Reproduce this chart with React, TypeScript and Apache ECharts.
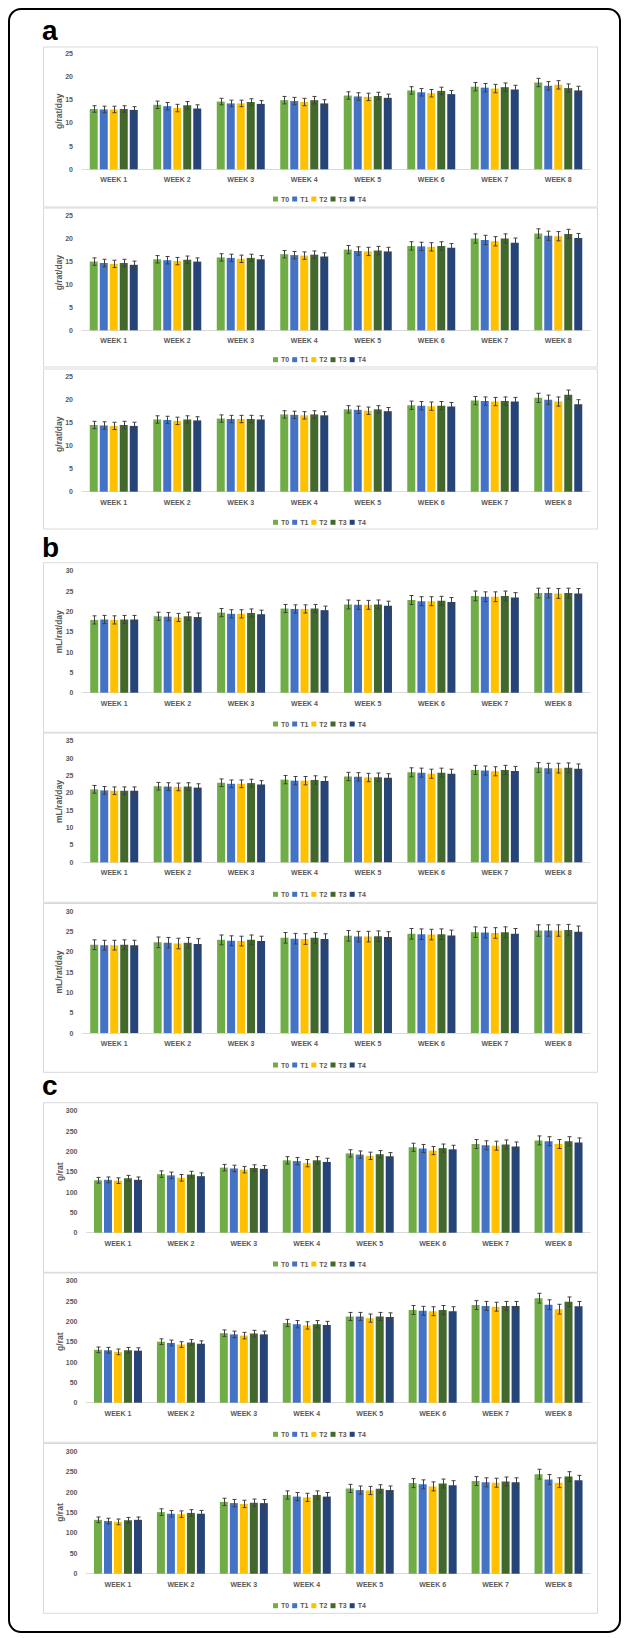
import React, { useEffect, useRef } from "react";
import * as echarts from "echarts";

const weeks = ["WEEK 1", "WEEK 2", "WEEK 3", "WEEK 4", "WEEK 5", "WEEK 6", "WEEK 7", "WEEK 8"];
const groups = ["T0", "T1", "T2", "T3", "T4"];
const colors = ["#70AD47", "#4472C4", "#FFC000", "#43682B", "#264478"];

// a: feed intake (g/rat/day)
const a1 = [
  [13.0, 13.9, 14.6, 14.9, 15.9, 17.0, 17.8, 18.7],
  [12.9, 13.6, 14.2, 14.7, 15.7, 16.6, 17.6, 18.0],
  [12.9, 13.2, 14.2, 14.5, 15.6, 16.4, 17.4, 18.2],
  [13.0, 13.8, 14.5, 14.9, 15.8, 16.9, 17.7, 17.5],
  [12.8, 13.1, 14.1, 14.2, 15.4, 16.2, 17.2, 17.0],
];
const a1Err = [0.7, 0.8, 0.7, 0.8, 0.8, 0.8, 0.9, 0.9];

const a2 = [
  [14.9, 15.4, 15.8, 16.5, 17.5, 18.3, 19.9, 21.0],
  [14.6, 15.2, 15.7, 16.3, 17.2, 18.2, 19.6, 20.5],
  [14.4, 15.0, 15.5, 16.2, 17.1, 18.1, 19.3, 20.4],
  [14.6, 15.3, 15.7, 16.4, 17.3, 18.3, 19.9, 20.9],
  [14.2, 14.9, 15.4, 16.0, 17.1, 17.9, 19.0, 20.0],
];
const a2Err = [0.8, 0.8, 0.8, 0.8, 0.9, 0.9, 1.0, 1.0];

const a3 = [
  [14.5, 15.7, 15.9, 16.8, 17.9, 18.8, 19.8, 20.4],
  [14.4, 15.6, 15.8, 16.7, 17.8, 18.7, 19.7, 20.0],
  [14.3, 15.4, 15.8, 16.6, 17.6, 18.6, 19.6, 19.6],
  [14.5, 15.7, 15.8, 16.8, 17.9, 18.7, 19.7, 21.1],
  [14.3, 15.5, 15.7, 16.6, 17.5, 18.5, 19.6, 19.0],
];
const a3Err = [0.8, 0.8, 0.8, 0.8, 0.8, 0.9, 0.9, 1.0];

// b: water intake (mL/rat/day)
const b1 = [
  [17.9, 18.8, 19.7, 20.7, 21.7, 22.8, 23.8, 24.5],
  [18.0, 18.7, 19.4, 20.6, 21.6, 22.5, 23.6, 24.5],
  [17.9, 18.5, 19.4, 20.6, 21.6, 22.5, 23.6, 24.4],
  [18.0, 18.8, 19.6, 20.7, 21.7, 22.6, 23.8, 24.5],
  [18.0, 18.6, 19.3, 20.3, 21.4, 22.3, 23.4, 24.4],
];
const b1Err = [1.0, 1.0, 1.0, 1.0, 1.1, 1.1, 1.2, 1.2];

const b2 = [
  [21.0, 21.9, 22.9, 23.8, 24.7, 25.9, 26.6, 27.3],
  [20.7, 21.8, 22.6, 23.5, 24.6, 25.8, 26.4, 27.1],
  [20.6, 21.7, 22.6, 23.5, 24.4, 25.5, 26.2, 27.1],
  [20.6, 21.8, 22.8, 23.7, 24.5, 25.8, 26.6, 27.2],
  [20.6, 21.5, 22.4, 23.4, 24.3, 25.5, 26.3, 26.9],
];
const b2Err = [1.1, 1.1, 1.1, 1.2, 1.2, 1.3, 1.3, 1.4];

const b3 = [
  [21.7, 22.3, 22.9, 23.4, 23.9, 24.4, 24.8, 25.2],
  [21.6, 22.2, 22.7, 23.2, 23.7, 24.3, 24.7, 25.2],
  [21.6, 22.0, 22.6, 23.1, 23.7, 24.2, 24.6, 25.2],
  [21.7, 22.2, 22.9, 23.4, 23.8, 24.3, 24.8, 25.3],
  [21.6, 21.9, 22.6, 23.1, 23.6, 24.0, 24.4, 24.9],
];
const b3Err = [1.2, 1.3, 1.2, 1.3, 1.3, 1.3, 1.3, 1.4];

// c: body weight (g/rat)
const c1 = [
  [129, 144, 160, 178, 195, 210, 218, 227],
  [130, 141, 158, 176, 192, 207, 215, 225],
  [128, 135, 155, 171, 189, 202, 214, 218],
  [134, 143, 159, 178, 193, 208, 217, 225],
  [130, 139, 157, 174, 188, 205, 212, 222],
];
const c1Err = [7, 8, 8, 9, 9, 10, 11, 11];

const c2 = [
  [130, 150, 171, 196, 212, 228, 240, 257],
  [129, 147, 168, 193, 212, 226, 238, 241],
  [125, 143, 165, 190, 208, 225, 236, 230],
  [129, 148, 170, 193, 212, 228, 238, 248],
  [128, 145, 168, 191, 211, 225, 238, 237],
];
const c2Err = [7, 7, 8, 9, 10, 11, 11, 12];

const c3 = [
  [132, 151, 176, 193, 209, 222, 227, 244],
  [129, 147, 173, 189, 205, 219, 224, 231],
  [127, 146, 171, 187, 204, 214, 223, 223],
  [131, 149, 174, 193, 208, 221, 226, 238],
  [132, 147, 173, 189, 205, 217, 224, 229],
];
const c3Err = [7, 8, 9, 10, 10, 11, 11, 12];

const FONT = "'Liberation Sans', Arial, sans-serif";
const GRAY = "#595959";

const panels = [
  { data: a1, err: a1Err, unit: "g/rat/day", max: 25, step: 5, left: 82, nameGap: 19, gridTop: 53.3, gridH: 116, boxTop: 47, boxH: 160, legendY: 195 },
  { data: a2, err: a2Err, unit: "g/rat/day", max: 25, step: 5, left: 82, nameGap: 19, gridTop: 215, gridH: 115.3, boxTop: 208, boxH: 159, legendY: 355.7 },
  { data: a3, err: a3Err, unit: "g/rat/day", max: 25, step: 5, left: 82, nameGap: 19, gridTop: 376.7, gridH: 115, boxTop: 369, boxH: 160, legendY: 518.3 },
  { data: b1, err: b1Err, unit: "mL/rat/day", max: 30, step: 5, left: 82.5, nameGap: 19.5, gridTop: 570.7, gridH: 122, boxTop: 562.7, boxH: 169.6, legendY: 720 },
  { data: b2, err: b2Err, unit: "mL/rat/day", max: 35, step: 5, left: 82.5, nameGap: 19.5, gridTop: 740.7, gridH: 121.6, boxTop: 733, boxH: 169.3, legendY: 890.3 },
  { data: b3, err: b3Err, unit: "mL/rat/day", max: 30, step: 5, left: 82.5, nameGap: 19.5, gridTop: 911, gridH: 122, boxTop: 903.5, boxH: 168.8, legendY: 1061 },
  { data: c1, err: c1Err, unit: "g/rat", max: 300, step: 50, left: 86.5, nameGap: 22, gridTop: 1110.7, gridH: 122, boxTop: 1102.7, boxH: 169.6, legendY: 1260 },
  { data: c2, err: c2Err, unit: "g/rat", max: 300, step: 50, left: 86.5, nameGap: 22, gridTop: 1280.7, gridH: 122, boxTop: 1273, boxH: 169.3, legendY: 1430.3 },
  { data: c3, err: c3Err, unit: "g/rat", max: 300, step: 50, left: 86.5, nameGap: 22, gridTop: 1451.3, gridH: 122.4, boxTop: 1443.5, boxH: 169.8, legendY: 1601.7 },
];

const letters = [
  { t: "a", y: 30 },
  { t: "b", y: 547 },
  { t: "c", y: 1085 },
];

export default function App() {
  const ref = useRef<HTMLDivElement>(null);
  useEffect(() => {
    if (!ref.current) return;
    const chart = echarts.init(ref.current, null, { renderer: "svg" });

    const grid: any[] = [];
    const xAxis: any[] = [];
    const yAxis: any[] = [];
    const legend: any[] = [];
    const series: any[] = [];
    const graphic: any[] = [];

    graphic.push({
      type: "rect",
      shape: { x: 9, y: 9, width: 611, height: 1623, r: 12 },
      style: { fill: "none", stroke: "#000", lineWidth: 2 },
      silent: true,
    });

    letters.forEach((l) => {
      graphic.push({
        type: "text",
        x: 42,
        y: l.y,
        style: { text: l.t, font: `bold 28px ${FONT}`, fill: "#000", textAlign: "left", textVerticalAlign: "middle" },
        silent: true,
      });
    });

    panels.forEach((p, i) => {
      graphic.push({
        type: "rect",
        shape: { x: 43.5, y: p.boxTop, width: 554, height: p.boxH },
        style: { fill: "none", stroke: "#d9d9d9", lineWidth: 1 },
        silent: true,
      });
      grid.push({ left: p.left, width: 590 - p.left, top: p.gridTop, height: p.gridH, containLabel: false });
      xAxis.push({
        type: "category",
        gridIndex: i,
        data: weeks,
        axisLine: { lineStyle: { color: "#d9d9d9", width: 1 } },
        axisTick: { show: false },
        axisLabel: { fontSize: 7, fontWeight: "bold", color: GRAY, fontFamily: FONT, margin: 7 },
      });
      yAxis.push({
        type: "value",
        gridIndex: i,
        min: 0,
        max: p.max,
        interval: p.step,
        axisLine: { show: false },
        axisTick: { show: false },
        splitLine: { show: false },
        axisLabel: { fontSize: 7, fontWeight: "bold", color: GRAY, fontFamily: FONT, margin: 9 },
        name: p.unit,
        nameLocation: "middle",
        nameGap: p.nameGap,
        nameMoveOverlap: false,
        nameTextStyle: { fontSize: 8.5, fontWeight: "bold", color: GRAY, fontFamily: FONT },
      });
      legend.push({
        data: groups,
        top: p.legendY - 4.5,
        left: 268,
        icon: "rect",
        itemWidth: 5,
        itemHeight: 5,
        itemGap: 3,
        selectedMode: false,
        textStyle: { fontSize: 7, fontWeight: "bold", color: GRAY, fontFamily: FONT, padding: [0, 0, 0, -2] },
      });
      groups.forEach((g, s) => {
        series.push({
          type: "bar",
          name: g,
          xAxisIndex: i,
          yAxisIndex: i,
          data: p.data[s],
          barWidth: 8,
          barGap: "25%",
          itemStyle: { color: colors[s] },
          z: 2,
        });
      });
      const errData: number[][] = [];
      groups.forEach((_, s) => {
        p.data[s].forEach((v, w) => errData.push([w, s, v, p.err[w]]));
      });
      series.push({
        type: "custom",
        name: "err" + i,
        xAxisIndex: i,
        yAxisIndex: i,
        data: errData,
        encode: { x: 0, y: 2 },
        z: 5,
        silent: true,
        renderItem: (params: any, api: any) => {
          const w = api.value(0);
          const s = api.value(1);
          const v = api.value(2);
          const e = api.value(3);
          const top = api.coord([w, v + e]);
          const bot = api.coord([w, v - e]);
          const x = Math.round(top[0] + (s - 2) * 10) + 0.5;
          const st = { stroke: "#404040", lineWidth: 1 };
          return {
            type: "group",
            children: [
              { type: "line", shape: { x1: x, y1: top[1], x2: x, y2: bot[1] }, style: st },
              { type: "line", shape: { x1: x - 2, y1: top[1], x2: x + 2, y2: top[1] }, style: st },
              { type: "line", shape: { x1: x - 2, y1: bot[1], x2: x + 2, y2: bot[1] }, style: st },
            ],
          };
        },
      });
    });

    chart.setOption({
      animation: false,
      backgroundColor: "#fff",
      textStyle: { fontFamily: FONT },
      grid,
      xAxis,
      yAxis,
      legend,
      series,
      graphic,
    });
    return () => chart.dispose();
  }, []);
  return <div ref={ref} style={{ position: "absolute", left: 0, top: 0, width: 625, height: 1638 }} />;
}
